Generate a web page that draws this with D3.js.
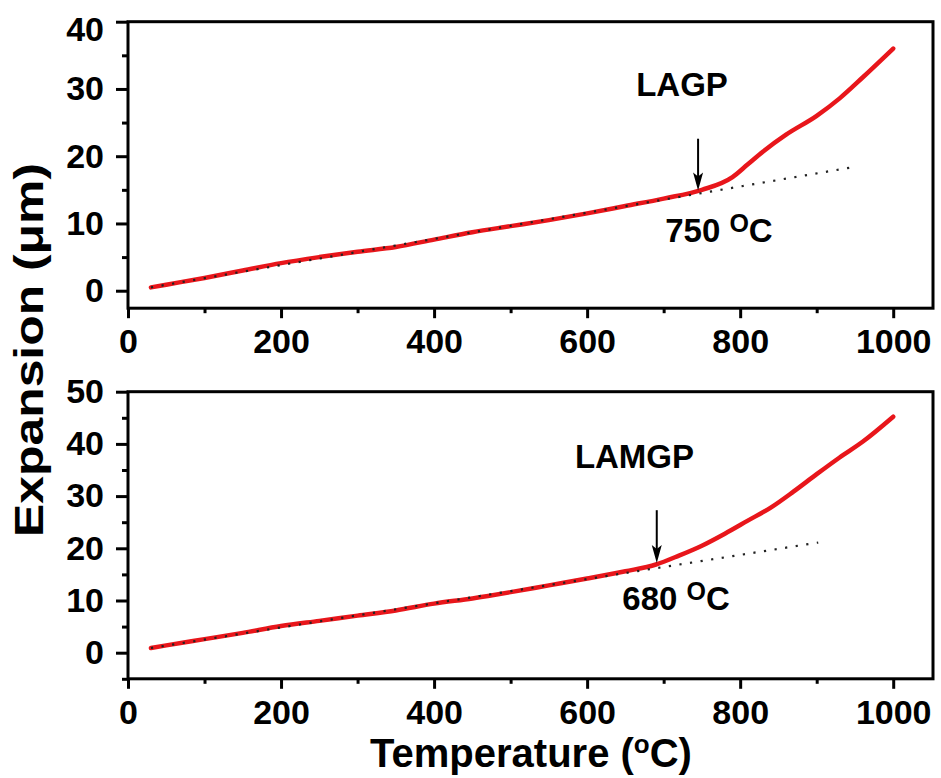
<!DOCTYPE html>
<html><head><meta charset="utf-8">
<script src="https://cdn.jsdelivr.net/npm/d3@7"></script>
<style>
body{margin:0;background:#fff}
svg{display:block}
text{font-family:"Liberation Sans",Arial,Helvetica,sans-serif;font-weight:bold;fill:#000}
</style>
</head><body>
<script>
// ---------- data ----------
const xMajorTicks = [0, 200, 400, 600, 800, 1000];
const xMinorTicks = [100, 300, 500, 700, 900];

const lagpTemp = [30, 50, 100, 150, 200, 250, 300, 350, 400, 450, 500, 550, 600, 650, 700, 750, 790, 810, 830, 860, 900, 930, 960, 1000];
const lagpExp  = [0.5, 0.9, 1.9, 3.0, 4.1, 5.0, 5.8, 6.5, 7.6, 8.7, 9.6, 10.5, 11.5, 12.6, 13.7, 15.0, 16.9, 18.8, 20.7, 23.2, 26.0, 28.6, 31.7, 36.0];

const lamgpTemp = [30, 50, 100, 150, 200, 250, 300, 350, 400, 450, 500, 550, 600, 650, 690, 720, 750, 780, 810, 840, 870, 900, 930, 960, 1000];
const lamgpExp  = [0.9, 1.4, 2.6, 3.8, 5.1, 6.1, 7.1, 8.1, 9.4, 10.4, 11.6, 12.9, 14.2, 15.6, 16.9, 18.6, 20.5, 22.8, 25.3, 27.8, 30.9, 34.2, 37.4, 40.4, 45.2];

const lagpTangentTemp = [30, 944];
const lagpTangentExp  = [0.5, 18.3];
const lamgpTangentTemp = [30, 902];
const lamgpTangentExp  = [0.9, 21.1];

const topYMajor = [0, 10, 20, 30, 40];
const topYMinor = [5, 15, 25, 35];
const botYMajor = [0, 10, 20, 30, 40, 50];
const botYMinor = [-5, 5, 15, 25, 35, 45];

const sampleNames = ["LAGP", "LAMGP"];
const onsetTemps  = [750, 680];          // labelled onset temperatures
const arrowTemp   = [745, 691];          // arrow x position (°C)
const arrowFromExp = [22.6, 27.3];       // arrow tail (µm)
const arrowToExp   = [14.9, 17.2];       // arrow tip (µm)
const nameAnchorTemp = [724, 584];
const nameAnchorExp  = [28.9, 35.4];
const onsetAnchorTemp = [702, 646];
const onsetAnchorExp  = [7.2, 8.2];

// ---------- layout ----------
const W = 941, H = 778;
const svg = d3.select("body").append("svg").attr("width", W).attr("height", H);
svg.append("rect").attr("width", W).attr("height", H).attr("fill", "#fff");

const x = d3.scaleLinear().domain([0, 1052]).range([128, 933]);

const panels = [
  {name: sampleNames[0], temp: lagpTemp, exp: lagpExp, tT: lagpTangentTemp, tE: lagpTangentExp,
   y: d3.scaleLinear().domain([-2.6, 40]).range([308.2, 21.7]), major: topYMajor, minor: topYMinor, i: 0},
  {name: sampleNames[1], temp: lamgpTemp, exp: lamgpExp, tT: lamgpTangentTemp, tE: lamgpTangentExp,
   y: d3.scaleLinear().domain([-5, 50]).range([678.8, 391.7]), major: botYMajor, minor: botYMinor, i: 1}
];

const red = "#e8161b";
const FS = 34;

panels.forEach(p => {
  const g = svg.append("g");
  const [y0, y1] = p.y.range();
  const xb = x.range();

  const xa = g.append("g").attr("transform", `translate(0,${y0})`)
    .call(d3.axisBottom(x).tickValues(xMajorTicks).tickSize(10).tickPadding(11).tickFormat(d3.format("d")));
  const xm = g.append("g").attr("transform", `translate(0,${y0})`)
    .call(d3.axisBottom(x).tickValues(xMinorTicks).tickSize(5).tickFormat(""));
  const ya = g.append("g").attr("transform", `translate(${xb[0]},0)`)
    .call(d3.axisLeft(p.y).tickValues(p.major).tickSize(12).tickPadding(12).tickFormat(d3.format("d")));
  const ym = g.append("g").attr("transform", `translate(${xb[0]},0)`)
    .call(d3.axisLeft(p.y).tickValues(p.minor).tickSize(6).tickFormat(""));

  [xa, xm, ya, ym].forEach(a => {
    a.select(".domain").remove();
    a.selectAll(".tick line").attr("stroke", "#000").attr("stroke-width", 3);
    a.selectAll("text").attr("font-size", FS).attr("font-family", null).attr("fill", "#000");
  });
  if (p.i === 0) ya.selectAll(".tick text").filter(d => d === 40).attr("dy", "0.56em");

  g.append("rect").attr("x", xb[0]).attr("y", y1).attr("width", xb[1] - xb[0]).attr("height", y0 - y1)
    .attr("fill", "none").attr("stroke", "#000").attr("stroke-width", 3);

  const pts = p.temp.map((t, k) => [t, p.exp[k]]);
  const line = d3.line().x(d => x(d[0])).y(d => p.y(d[1])).curve(d3.curveMonotoneX);
  g.append("path").attr("d", line(pts)).attr("fill", "none").attr("stroke", red)
    .attr("stroke-width", 4.5).attr("stroke-linejoin", "round").attr("stroke-linecap", "round");

  const tp = p.tT.map((t, k) => [t, p.tE[k]]);
  g.append("path").attr("d", d3.line().x(d => x(d[0])).y(d => p.y(d[1]))(tp))
    .attr("fill", "none").attr("stroke", "#222").attr("stroke-width", 2.2).attr("stroke-dasharray", "2.2,8.5");

  const ax = x(arrowTemp[p.i]);
  const aFrom = p.y(arrowFromExp[p.i]), aTo = p.y(arrowToExp[p.i]);
  g.append("line").attr("x1", ax).attr("x2", ax).attr("y1", aFrom).attr("y2", aTo - 12)
    .attr("stroke", "#000").attr("stroke-width", 2);
  g.append("path").attr("d", `M${ax},${aTo} L${ax - 5},${aTo - 18} L${ax},${aTo - 14} L${ax + 5},${aTo - 18} Z`)
    .attr("fill", "#000");

  g.append("text").attr("x", x(nameAnchorTemp[p.i])).attr("y", p.y(nameAnchorExp[p.i]))
    .attr("text-anchor", p.i === 0 ? "middle" : "start").attr("font-size", 33).text(p.name);

  const ot = g.append("text").attr("x", x(onsetAnchorTemp[p.i])).attr("y", p.y(onsetAnchorExp[p.i]))
    .attr("font-size", 33);
  ot.append("tspan").text(onsetTemps[p.i] + " ");
  ot.append("tspan").attr("font-size", 25).attr("dy", -10).text("O");
  ot.append("tspan").attr("dy", 10).text("C");
});

svg.append("text").attr("x", 531).attr("y", 767).attr("text-anchor", "middle").attr("font-size", 40)
  .call(t => {
    t.append("tspan").text("Temperature (");
    t.append("tspan").attr("font-size", 26).attr("dy", -14).text("o");
    t.append("tspan").attr("dy", 14).text("C)");
  });

svg.append("text").attr("transform", "translate(43,350) rotate(-90)").attr("text-anchor", "middle")
  .attr("font-size", 41).attr("textLength", 374).attr("lengthAdjust", "spacingAndGlyphs")
  .text("Expansion (\u03bcm)");
</script>
</body></html>
